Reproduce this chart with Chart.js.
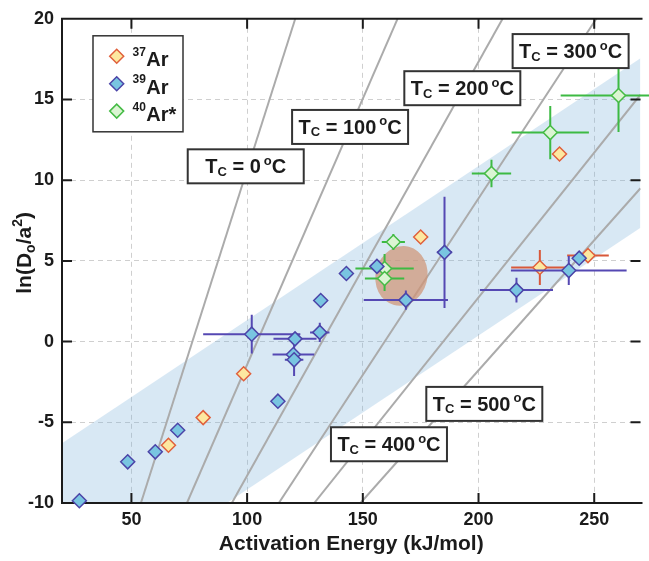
<!DOCTYPE html>
<html>
<head>
<meta charset="utf-8">
<script src="https://cdn.jsdelivr.net/npm/chart.js@4/dist/chart.umd.min.js"></script>
<style>
  html, body { margin: 0; padding: 0; background: #fff; }
</style>
</head>
<body>
<canvas id="chart" width="649" height="561"></canvas>
<script>
// values
const energyTicks = [50, 100, 150, 200, 250];
const lnTicks = [-10, -5, 0, 5, 10, 15, 20];

// 37Ar
const ar37Energy = [66, 81, 98.5, 175, 226.5, 235, 247.3];
const ar37LnD    = [-6.42, -4.71, -1.99, 6.48, 4.59, 11.62, 5.33];
const ar37ErrE   = [0, 0, 0, 0, 12.4, 0, 9];
const ar37ErrLnD = [0, 0, 0, 0, 1.08, 0, 0];

// 39Ar
const ar39Energy = [27.5, 48.4, 60.3, 70, 113.3, 102, 120.7, 120, 120.3, 131.4, 131.8, 142.9, 156.1, 168.6, 185.3, 216.4, 239, 243.5];
const ar39LnD    = [-9.86, -7.45, -6.83, -5.49, -3.69, 0.46, 0.17, -0.8, -1.13, 0.57, 2.55, 4.22, 4.66, 2.57, 5.53, 3.19, 4.4, 5.17];
const ar39ErrE   = [0, 0, 0, 0, 0, 21, 9.3, 9, 4, 4.2, 0, 0, 0, 18.2, 3.3, 15.8, 25, 0];
const ar39ErrLnD = [0, 0, 0, 0, 0, 1.2, 0, 0.3, 1.0, 0.6, 0, 0, 0, 0.6, 3.45, 0.77, 0.9, 0];

// 40Ar*
const ar40Energy = [163.2, 159.4, 159.4, 205.6, 231, 260.5];
const ar40LnD    = [6.17, 4.53, 3.91, 10.41, 12.95, 15.25];
const ar40ErrE   = [5, 12.6, 8.5, 8.5, 16.7, 25];
const ar40ErrLnD = [0.5, 0.9, 0.77, 0.85, 1.65, 2.27];

// closure temperature isotherms (end points)
const tcValues  = [0, 100, 200, 300, 400, 500];
const tcStartE  = [54.1, 74, 93.4, 113.7, 129, 149];
const tcStartLn = [-10, -10, -10, -10, -10, -10];
const tcEndE    = [120.8, 165, 210.4, 250.9, 270, 270];
const tcEndLn   = [20, 20, 20, 20, 15.3, 9.5];

// shaded band
const bandE     = [20, 270];
const bandUpper = [-6.3, 17.55];
const bandLower = [-16.8, 7.06];

// highlighted region (centre and half widths)
const blobCentre = [166.7, 4.07];
const blobHalf   = [11.2, 1.86];

// where the isotherm labels sit (axis units)
const tcLabelAt = [[99.4, 10.86], [144.5, 13.3], [193, 15.7], [239.8, 18.0], [161.3, -6.36], [202.5, -3.86]];

const FONT = "'Liberation Sans', Arial, Helvetica, sans-serif";
const INK = '#1b1b1b';

const series = {
  ar37: { mass: '37', name: 'Ar', fill: '#fde8a0', edge: '#e0603c', err: '#d8583a' },
  ar39: { mass: '39', name: 'Ar', fill: '#79c5e1', edge: '#4b44a8', err: '#5548b3' },
  ar40: { mass: '40', name: 'Ar*', fill: '#dbf5d3', edge: '#45bb45', err: '#3dba43' },
};

const pts = (xs, ys) => xs.map((v, i) => ({ x: v, y: ys[i] }));

function richText(ctx, parts, x, y) {
  let w = 0;
  parts.forEach(p => {
    ctx.font = 'bold ' + p.size + 'px ' + FONT;
    p.w = ctx.measureText(p.t).width + (p.padL || 0);
    w += p.w;
  });
  let cx = x - w / 2;
  parts.forEach(p => {
    ctx.font = 'bold ' + p.size + 'px ' + FONT;
    ctx.fillText(p.t, cx + (p.padL || 0), y + (p.dy || 0));
    cx += p.w;
  });
}

function drawFrame(chart) {
  const { ctx, chartArea: a, scales: { x, y } } = chart;
  ctx.save();
  ctx.strokeStyle = INK;
  ctx.lineWidth = 2;
  ctx.beginPath();
  ctx.moveTo(a.left, a.top); ctx.lineTo(a.right + 2, a.top);
  ctx.moveTo(a.left, a.top - 1); ctx.lineTo(a.left, a.bottom + 1);
  ctx.moveTo(a.left, a.bottom); ctx.lineTo(a.right + 2, a.bottom);
  const tl = 10;
  energyTicks.forEach(v => {
    const px = x.getPixelForValue(v);
    ctx.moveTo(px, a.top); ctx.lineTo(px, a.top + tl);
    ctx.moveTo(px, a.bottom); ctx.lineTo(px, a.bottom - tl);
  });
  lnTicks.slice(1, -1).forEach(v => {
    const py = y.getPixelForValue(v);
    ctx.moveTo(a.left, py); ctx.lineTo(a.left + tl, py);
    ctx.moveTo(a.right, py); ctx.lineTo(a.right - tl, py);
  });
  ctx.stroke();
  ctx.restore();
}

function drawBlob(chart) {
  const { ctx, scales: { x, y } } = chart;
  const cx = x.getPixelForValue(blobCentre[0]);
  const cy = y.getPixelForValue(blobCentre[1]);
  const rx = Math.abs(x.getPixelForValue(blobCentre[0] + blobHalf[0]) - cx);
  const ry = Math.abs(y.getPixelForValue(blobCentre[1] + blobHalf[1]) - cy);
  ctx.save();
  ctx.fillStyle = 'rgba(208,148,118,0.72)';
  ctx.beginPath();
  ctx.ellipse(cx, cy, rx, ry, 0.25, 0, Math.PI * 2);
  ctx.fill();
  ctx.restore();
}

function drawErrorBars(chart, ds) {
  const { ctx, scales: { x, y } } = chart;
  ctx.save();
  ctx.strokeStyle = ds.errColor;
  ctx.lineWidth = 2;
  ctx.beginPath();
  ds.data.forEach((p, i) => {
    const cx = x.getPixelForValue(p.x), cy = y.getPixelForValue(p.y);
    const de = ds.errE[i], dl = ds.errLnD[i];
    if (de) {
      ctx.moveTo(x.getPixelForValue(p.x - de), cy);
      ctx.lineTo(x.getPixelForValue(p.x + de), cy);
    }
    if (dl) {
      ctx.moveTo(cx, y.getPixelForValue(p.y - dl));
      ctx.lineTo(cx, y.getPixelForValue(p.y + dl));
    }
  });
  ctx.stroke();
  ctx.restore();
}

function drawTcLabels(chart) {
  const { ctx, scales: { x, y } } = chart;
  ctx.save();
  tcValues.forEach((t, i) => {
    const cx = x.getPixelForValue(tcLabelAt[i][0]);
    const cy = y.getPixelForValue(tcLabelAt[i][1]);
    ctx.fillStyle = '#fff';
    ctx.fillRect(cx - 58, cy - 17, 116, 34);
    ctx.strokeStyle = '#333';
    ctx.lineWidth = 2;
    ctx.strokeRect(cx - 58, cy - 17, 116, 34);
    ctx.fillStyle = INK;
    ctx.textBaseline = 'alphabetic';
    ctx.textAlign = 'left';
    richText(ctx, [
      { t: 'T', size: 20 },
      { t: 'C', size: 13, dy: 2.5 },
      { t: ' = ' + t, size: 20 },
      { t: 'o', size: 13, dy: -8.5, padL: 3 },
      { t: 'C', size: 20 },
    ], cx, cy + 7);
  });
  ctx.restore();
}

function drawLegend(chart) {
  const { ctx, chartArea: a } = chart;
  const left = a.left + 31, top = a.top + 17;
  ctx.save();
  ctx.fillStyle = '#fff';
  ctx.fillRect(left, top, 90, 96);
  ctx.strokeStyle = '#333';
  ctx.lineWidth = 1.5;
  ctx.strokeRect(left, top, 90, 96);
  const rows = [series.ar37, series.ar39, series.ar40];
  rows.forEach((s, i) => {
    const ry = top + 20.5 + i * 27.4;
    const mx = left + 23.7, r = 7;
    ctx.beginPath();
    ctx.moveTo(mx - r, ry); ctx.lineTo(mx, ry - r); ctx.lineTo(mx + r, ry); ctx.lineTo(mx, ry + r);
    ctx.closePath();
    ctx.fillStyle = s.fill; ctx.fill();
    ctx.strokeStyle = s.edge; ctx.lineWidth = 1.5; ctx.stroke();
    ctx.fillStyle = INK;
    ctx.textAlign = 'left';
    ctx.textBaseline = 'alphabetic';
    ctx.font = 'bold 12px ' + FONT;
    ctx.fillText(s.mass, left + 39.5, ry - 0.6);
    const mw = ctx.measureText(s.mass).width;
    ctx.font = 'bold 20px ' + FONT;
    ctx.fillText(s.name, left + 39.5 + mw + 0.5, ry + 10);
  });
  ctx.restore();
}

function drawYTitle(chart) {
  const { ctx, chartArea: a } = chart;
  ctx.save();
  ctx.translate(23, (a.top + a.bottom) / 2 - 8);
  ctx.rotate(-Math.PI / 2);
  ctx.fillStyle = INK;
  ctx.textAlign = 'left';
  ctx.textBaseline = 'alphabetic';
  richText(ctx, [
    { t: 'ln(D', size: 21 },
    { t: 'o', size: 14, dy: 4 },
    { t: '/a', size: 21 },
    { t: '2', size: 14, dy: -9 },
    { t: ')', size: 21 },
  ], 0, 8);
  ctx.restore();
}

const decor = {
  id: 'decor',
  beforeDatasetDraw(chart, args) {
    const ds = chart.data.datasets[args.index];
    if (ds.underlay) { drawFrame(chart); drawBlob(chart); }
    if (ds.errE) drawErrorBars(chart, ds);
  },
  afterDatasetsDraw(chart) {
    drawTcLabels(chart);
    drawLegend(chart);
    drawYTitle(chart);
  }
};

const datasets = [
  {
    type: 'line', label: 'band', data: pts(bandE, bandUpper),
    borderWidth: 0, pointRadius: 0, fill: '+1',
    backgroundColor: 'rgba(125,180,220,0.3)', order: 20
  },
  {
    type: 'line', label: 'band lower', data: pts(bandE, bandLower),
    borderWidth: 0, pointRadius: 0, fill: false, order: 19
  },
];

tcValues.forEach((t, i) => {
  datasets.push({
    type: 'line', label: 'Tc ' + t,
    data: [{ x: tcStartE[i], y: tcStartLn[i] }, { x: tcEndE[i], y: tcEndLn[i] }],
    borderColor: '#ababab', borderWidth: 2, pointRadius: 0, fill: false, order: 10
  });
});

function scatterSet(s, es, ls, ee, el, order, extra) {
  return Object.assign({
    type: 'scatter', label: s.mass + s.name, data: pts(es, ls),
    errE: ee, errLnD: el, errColor: s.err,
    pointStyle: 'rectRot', pointRadius: 7, pointHoverRadius: 7,
    backgroundColor: s.fill, borderColor: s.edge, borderWidth: 1.5,
    clip: false, order: order
  }, extra || {});
}

datasets.push(scatterSet(series.ar40, ar40Energy, ar40LnD, ar40ErrE, ar40ErrLnD, 3, { underlay: true }));
datasets.push(scatterSet(series.ar37, ar37Energy, ar37LnD, ar37ErrE, ar37ErrLnD, 2));
datasets.push(scatterSet(series.ar39, ar39Energy, ar39LnD, ar39ErrE, ar39ErrLnD, 1));

new Chart(document.getElementById('chart'), {
  type: 'scatter',
  data: { datasets },
  options: {
    responsive: false,
    animation: false,
    events: [],
    layout: { padding: { top: 16, right: 0, left: 0, bottom: 0 } },
    plugins: { legend: { display: false }, tooltip: { enabled: false } },
    scales: {
      x: {
        type: 'linear', min: 20, max: 270,
        afterBuildTicks: s => { s.ticks = energyTicks.map(v => ({ value: v })); },
        afterFit: s => { s.height = 58; },
        grid: { color: '#cfcfcf', lineWidth: 1, drawTicks: false },
        border: { display: false, dash: [5, 4] },
        ticks: { color: INK, padding: 6, font: { family: FONT, size: 18, weight: 'bold' } },
        title: {
          display: true, text: 'Activation Energy (kJ/mol)', color: INK,
          font: { family: FONT, size: 21, weight: 'bold' }, padding: { top: 0, bottom: 4 }
        }
      },
      y: {
        type: 'linear', min: -10, max: 20,
        afterBuildTicks: s => { s.ticks = lnTicks.map(v => ({ value: v })); },
        afterFit: s => { s.width = 62; },
        grid: { color: '#cfcfcf', lineWidth: 1, drawTicks: false },
        border: { display: false, dash: [5, 4] },
        ticks: { color: INK, padding: 8, font: { family: FONT, size: 18, weight: 'bold' } }
      }
    }
  },
  plugins: [decor]
});
</script>
</body>
</html>
